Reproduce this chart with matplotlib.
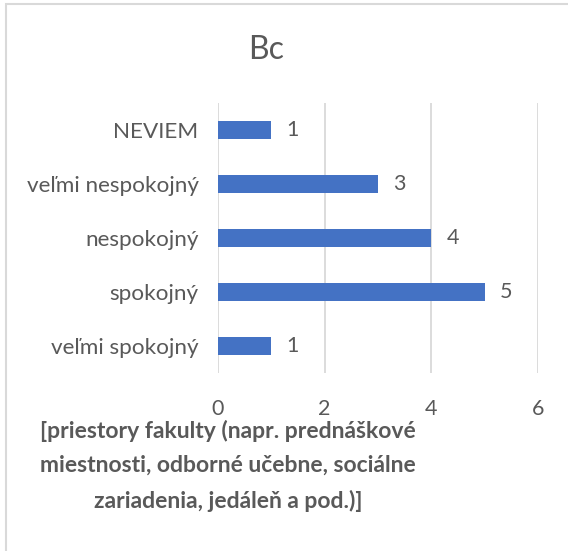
#import python libraries
import matplotlib
matplotlib.use("Agg")
import matplotlib.pyplot as plt
from matplotlib.patches import Rectangle

#chart data
categories = ["veľmi spokojný", "spokojný", "nespokojný", "veľmi nespokojný", "NEVIEM"]
counts = [1, 5, 4, 3, 1]
x_ticks = [0, 2, 4, 6]
title = "Bc"
x_label = "[priestory fakulty (napr. prednáškové\nmiestnosti, odborné učebne, sociálne\nzariadenia, jedáleň a pod.)]"

bar_color = "#4472C4"
text_color = "#595959"
grid_color = "#D9D9D9"

plt.rcParams["font.family"] = ["Lato", "DejaVu Sans"]

fig = plt.figure(figsize=(5.68, 5.51), dpi=100)
ax = fig.add_axes([218 / 568, 1 - 373 / 551, 320 / 568, 270 / 551])

#draw the bars
y_pos = list(range(len(categories)))
ax.barh(y_pos, counts, height=0.34, color=bar_color, zorder=3)
for y, v in zip(y_pos, counts):
    ax.annotate(str(v), (v, y), xytext=(11, 0), textcoords="offset points",
                va="center", ha="left", fontsize=15.5, color=text_color)

ax.set_xlim(0, 6)
ax.set_ylim(-0.5, len(categories) - 0.5)
ax.set_xticks(x_ticks)
ax.set_yticks(y_pos)
ax.set_yticklabels(categories)
ax.tick_params(axis="both", length=0, labelsize=15.5, labelcolor=text_color)
ax.tick_params(axis="y", pad=14, labelsize=16.2)
ax.tick_params(axis="x", pad=19)
ax.grid(axis="x", color=grid_color, linewidth=1.3, zorder=0)
for s in ax.spines.values():
    s.set_visible(False)

#title and wrapped axis label
fig.text(266 / 568, 1 - 50 / 551, title, ha="center", va="center",
         fontsize=23, color=text_color)
fig.text(228 / 568, 1 - 466 / 551, x_label, ha="center", va="center",
         fontsize=16.5, fontweight="bold", color=text_color, linespacing=1.75)

#chart border
fig.patches.append(Rectangle((6 / 568, -0.1), 1.2, 1 - 4 / 551 + 0.1,
                             transform=fig.transFigure, fill=False,
                             edgecolor=grid_color, linewidth=1.5))

fig.savefig("out.png", dpi=100)
